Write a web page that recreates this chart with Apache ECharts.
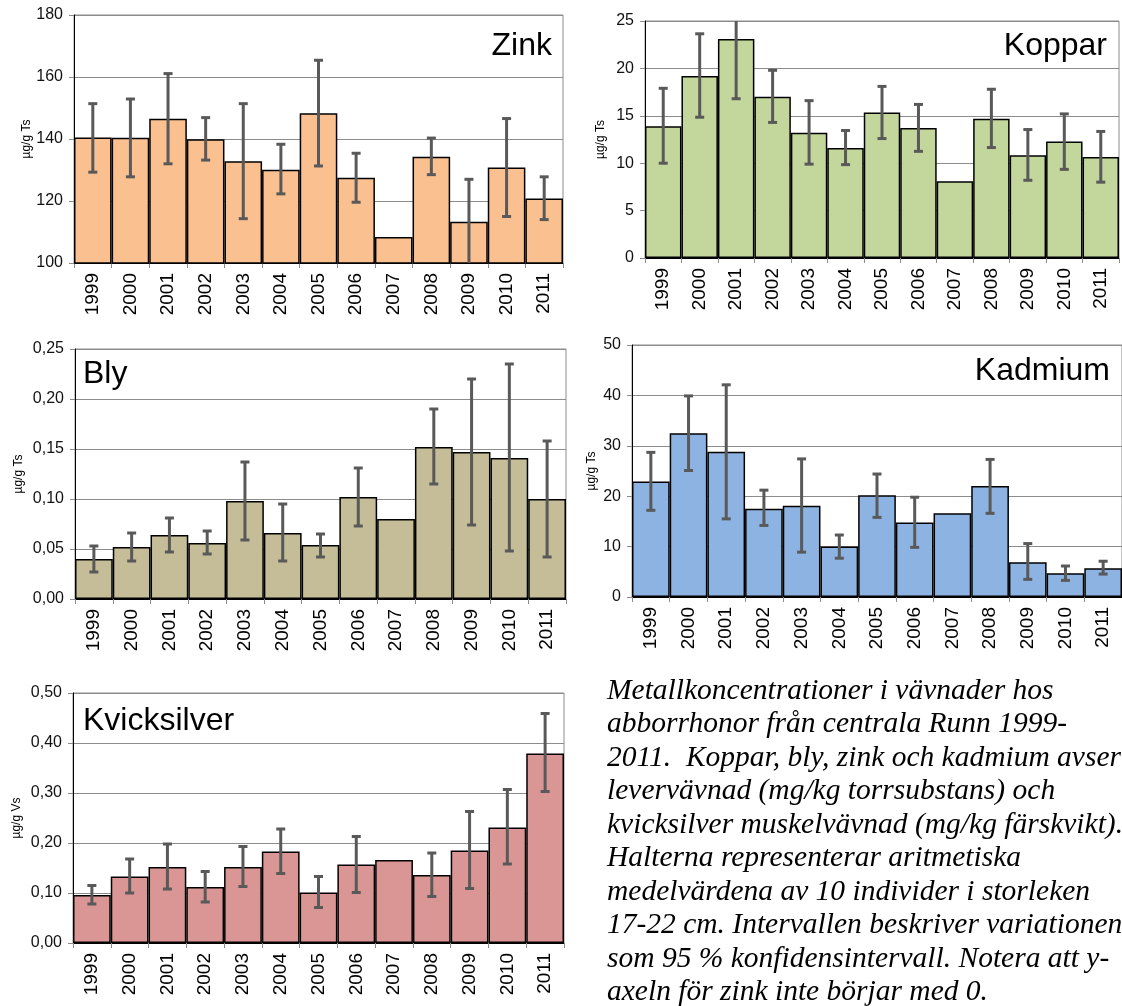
<!DOCTYPE html>
<html>
<head>
<meta charset="utf-8">
<script src="https://cdn.jsdelivr.net/npm/echarts@6/dist/echarts.min.js"></script>
<style>
  html, body { margin: 0; padding: 0; background: #fff; }
  #chart { width: 1122px; height: 1006px; }
</style>
</head>
<body>
<div id="chart"></div>
<script>
// Years sampled
const years = ['1999','2000','2001','2002','2003','2004','2005','2006','2007','2008','2009','2010','2011'];

// Zink (µg/g Ts) – mean and 95 % confidence limits
const zinkMean = [140.5, 140.4, 146.5, 139.9, 132.8, 130.1, 148.3, 127.5, 108.4, 134.3, 113.3, 130.8, 120.8];
const zinkLow  = [129.3, 127.8, 132.0, 133.2, 114.3, 122.3, 131.3, 119.6, null, 128.5, 99.5, 115.0, 114.0];
const zinkHigh = [151.4, 152.9, 161.1, 146.9, 151.4, 138.3, 165.4, 135.4, null, 140.3, 127.0, 146.6, 127.8];

// Koppar (µg/g Ts)
const kopparMean = [13.9, 19.2, 23.1, 17.0, 13.2, 11.6, 15.35, 13.7, 8.1, 14.7, 10.85, 12.3, 10.65];
const kopparLow  = [10.0, 14.85, 16.8, 14.3, 9.9, 9.85, 12.6, 11.25, null, 11.65, 8.2, 9.35, 8.0];
const kopparHigh = [17.9, 23.65, 25.3, 19.8, 16.6, 13.45, 18.1, 16.2, null, 17.8, 13.55, 15.2, 13.35];

// Bly (µg/g Ts)
const blyMean = [0.040, 0.052, 0.064, 0.056, 0.098, 0.066, 0.054, 0.102, 0.080, 0.152, 0.147, 0.141, 0.100];
const blyLow  = [0.027, 0.038, 0.047, 0.045, 0.059, 0.038, 0.042, 0.073, null, 0.115, 0.074, 0.048, 0.042];
const blyHigh = [0.053, 0.066, 0.081, 0.068, 0.137, 0.095, 0.065, 0.131, null, 0.190, 0.220, 0.235, 0.158];

// Kadmium (µg/g Ts)
const kadmiumMean = [22.9, 32.5, 28.8, 17.5, 18.1, 10.0, 20.2, 14.8, 16.6, 22.0, 6.9, 4.7, 5.7];
const kadmiumLow  = [17.2, 25.1, 15.5, 14.2, 8.9, 7.7, 15.8, 9.85, null, 16.6, 3.5, 3.3, 4.55];
const kadmiumHigh = [28.7, 39.9, 42.1, 21.2, 27.4, 12.3, 24.4, 19.8, null, 27.3, 10.6, 6.15, 7.1];

// Kvicksilver (µg/g Vs)
const hgMean = [0.096, 0.133, 0.152, 0.112, 0.152, 0.183, 0.101, 0.157, 0.166, 0.136, 0.185, 0.231, 0.379];
const hgLow  = [0.078, 0.100, 0.108, 0.082, 0.113, 0.139, 0.071, 0.101, null, 0.093, 0.109, 0.158, 0.303];
const hgHigh = [0.115, 0.168, 0.198, 0.143, 0.193, 0.228, 0.133, 0.213, null, 0.180, 0.263, 0.307, 0.459];

// Caption lines
const captionLines = [
  'Metallkoncentrationer i vävnader hos',
  'abborrhonor från centrala Runn 1999-',
  '2011.  Koppar, bly, zink och kadmium avser',
  'levervävnad (mg/kg torrsubstans) och',
  'kvicksilver muskelvävnad (mg/kg färskvikt).',
  'Halterna representerar aritmetiska',
  'medelvärdena av 10 individer i storleken',
  '17-22 cm. Intervallen beskriver variationen',
  'som 95 % konfidensintervall. Notera att y-',
  'axeln för zink inte börjar med 0.'
];

const SANS = '"Liberation Sans", Arial, sans-serif';

const panels = [
  { name: 'Zink', unit: 'µg/g Ts', mean: zinkMean, low: zinkLow, high: zinkHigh, color: '#FAC090',
    grid: { left: 74, top: 15, width: 489, height: 248 }, min: 100, max: 180, interval: 20, dec: 0,
    nameGap: 40, title: { x: 552, y: 30, align: 'right' } },
  { name: 'Koppar', unit: 'µg/g Ts', mean: kopparMean, low: kopparLow, high: kopparHigh, color: '#C3D69B',
    grid: { left: 645, top: 21, width: 474, height: 237 }, min: 0, max: 25, interval: 5, dec: 0,
    nameGap: 38, title: { x: 1107, y: 30, align: 'right' } },
  { name: 'Bly', unit: 'µg/g Ts', mean: blyMean, low: blyLow, high: blyHigh, color: '#C4BD97',
    grid: { left: 75, top: 349, width: 491, height: 250 }, min: 0, max: 0.25, interval: 0.05, dec: 2,
    nameGap: 50, title: { x: 83, y: 358, align: 'left' } },
  { name: 'Kadmium', unit: 'µg/g Ts', mean: kadmiumMean, low: kadmiumLow, high: kadmiumHigh, color: '#8DB3E2',
    grid: { left: 632, top: 345, width: 491, height: 252 }, min: 0, max: 50, interval: 10, dec: 0,
    nameGap: 34, title: { x: 1110, y: 355, align: 'right' } },
  { name: 'Kvicksilver', unit: 'µg/g Vs', mean: hgMean, low: hgLow, high: hgHigh, color: '#D99694',
    grid: { left: 73, top: 693, width: 491, height: 250 }, min: 0, max: 0.5, interval: 0.1, dec: 2,
    nameGap: 50, title: { x: 83, y: 705, align: 'left' } }
];

const grids = [], xAxes = [], yAxes = [], series = [], graphics = [];

// Error bars: whisker plus caps, kept inside the plot rectangle
function renderErrorBar(params, api) {
  const cs = params.coordSys;
  const top = cs.y, bottom = cs.y + cs.height;
  const lo = api.coord([api.value(0), api.value(1)]);
  const hi = api.coord([api.value(0), api.value(2)]);
  const x = lo[0];
  const half = 4.5;
  const style = { stroke: '#595959', lineWidth: 3 };
  const y1 = Math.min(lo[1], bottom), y2 = Math.max(hi[1], top);
  const children = [{ type: 'line', shape: { x1: x, y1: y1, x2: x, y2: y2 }, style }];
  if (lo[1] <= bottom) children.push({ type: 'line', shape: { x1: x - half, y1: lo[1], x2: x + half, y2: lo[1] }, style });
  if (hi[1] >= top) children.push({ type: 'line', shape: { x1: x - half, y1: hi[1], x2: x + half, y2: hi[1] }, style });
  return { type: 'group', children };
}

panels.forEach((p, i) => {
  grids.push(Object.assign({ show: true, borderColor: '#8c8c8c', borderWidth: 1, backgroundColor: 'transparent' }, p.grid));

  xAxes.push({
    type: 'category', gridIndex: i, data: years,
    axisLine: { show: true, lineStyle: { color: '#000', width: 1 } },
    axisTick: { show: true, alignWithLabel: false, length: 5, lineStyle: { color: '#8c8c8c' } },
    axisLabel: { rotate: 90, fontSize: 19, color: '#000', margin: 10, fontFamily: SANS, interval: 0 },
    splitLine: { show: false }
  });

  yAxes.push({
    type: 'value', gridIndex: i, min: p.min, max: p.max, interval: p.interval,
    name: p.unit, nameLocation: 'middle', nameGap: p.nameGap,
    nameTextStyle: { fontSize: 12, color: '#000', fontFamily: SANS },
    axisLine: { show: true, lineStyle: { color: '#000', width: 1 } },
    axisTick: { show: true, length: 5, lineStyle: { color: '#8c8c8c' } },
    axisLabel: {
      fontSize: 16, color: '#111', margin: 11, fontFamily: SANS,
      formatter: v => v.toFixed(p.dec).replace('.', ',')
    },
    splitLine: { show: true, lineStyle: { color: '#8c8c8c', width: 1 } }
  });

  series.push({
    type: 'bar', xAxisIndex: i, yAxisIndex: i, data: p.mean,
    barCategoryGap: '0%', barGap: '0%',
    itemStyle: { color: p.color, borderColor: '#000', borderWidth: 1.5 },
    silent: true, animation: false
  });

  const errData = [];
  p.mean.forEach((m, k) => {
    if (p.low[k] != null && p.high[k] != null) errData.push([k, p.low[k], p.high[k]]);
  });

  series.push({
    type: 'custom', xAxisIndex: i, yAxisIndex: i, data: errData,
    silent: true, animation: false, z: 5,
    encode: { x: 0, y: [1, 2] },
    renderItem: renderErrorBar
  });

  graphics.push({
    type: 'text', x: p.title.x, y: p.title.y, z: 10,
    style: {
      text: p.name, fill: '#000', textAlign: p.title.align, textVerticalAlign: 'top',
      font: '32px ' + SANS
    }
  });
});

graphics.push({
  type: 'text', x: 607, y: 674, z: 10,
  style: {
    text: captionLines.join('\n'), fill: '#000', textAlign: 'left', textVerticalAlign: 'top',
    font: 'italic 29.5px "Liberation Serif", "Times New Roman", serif', lineHeight: 33.5
  }
});

const chart = echarts.init(document.getElementById('chart'), null, { renderer: 'canvas' });
chart.setOption({
  animation: false,
  backgroundColor: '#fff',
  grid: grids,
  xAxis: xAxes,
  yAxis: yAxes,
  series: series,
  graphic: graphics
});
</script>
</body>
</html>
